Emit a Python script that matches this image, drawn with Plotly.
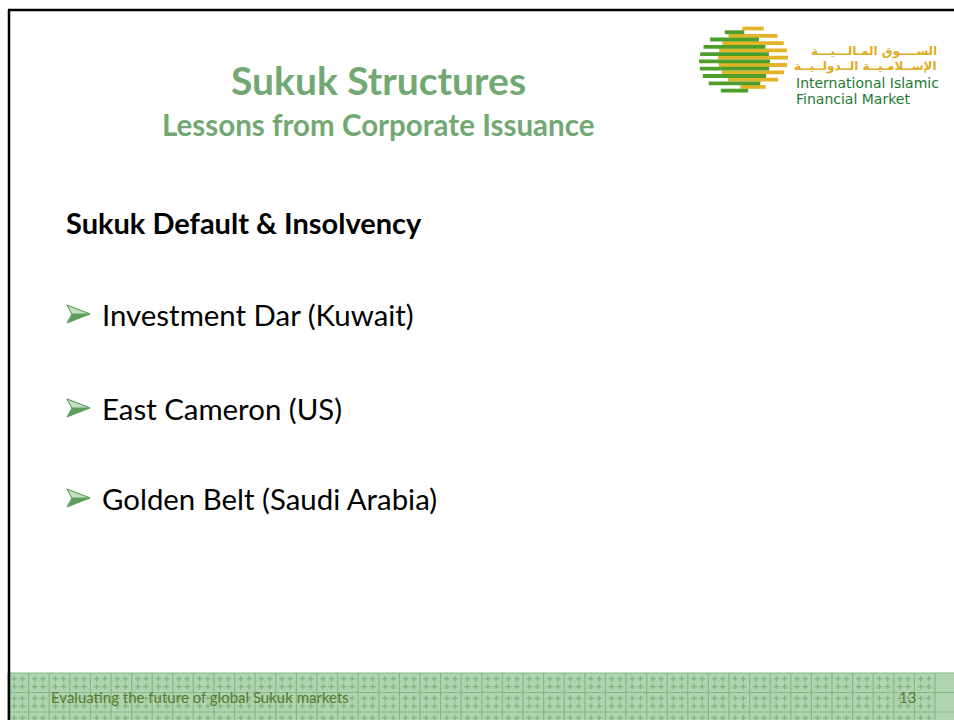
import numpy as np
import plotly.graph_objects as go

W, H = 954, 720

# ---- slide content ----
title = "Sukuk Structures"
subtitle = "Lessons from Corporate Issuance"
heading = "Sukuk Default & Insolvency"
bullets = ["Investment Dar (Kuwait)", "East Cameron (US)", "Golden Belt (Saudi Arabia)"]
bullet_y = [314, 408, 498]
footer_text = "Evaluating the future of global Sukuk markets"
page_no = "13"
logo_ar = ["الســــوق المـالـــيـــة", "الإســلامـيــة الــدولــيــة"]
logo_en = ["International Islamic", "Financial Market"]

GREEN_T = "#72a872"
OLIVE = "#5b7a2e"

fig = go.Figure()
shapes = []
ann = []

# footer band with tile pattern
shapes.append(dict(type="rect", x0=8, x1=W, y0=673, y1=H, fillcolor="#b0d3b0",
                   line=dict(width=0), layer="below"))
gx = np.arange(8, W + 1, 20.6)
gy = [673, 692.5, 712]
for x in gx:
    shapes.append(dict(type="line", x0=x, x1=x, y0=673, y1=H,
                       line=dict(color="#86b986", width=1.2), layer="below"))
for y in gy:
    shapes.append(dict(type="line", x0=8, x1=W, y0=y, y1=y,
                       line=dict(color="#86b986", width=1.2), layer="below"))
px, py = [], []
for x in gx[:-1]:
    for y0, y1 in zip([673, 692.5, 712], [692.5, 712, 731.5]):
        for fx in (0.3, 0.7):
            for fy in (0.3, 0.7):
                yy = y0 + (y1 - y0) * fy
                if yy < H:
                    px.append(x + 20.6 * fx)
                    py.append(yy)
fig.add_trace(go.Scatter(x=px, y=py, mode="markers", hoverinfo="skip",
                         marker=dict(symbol="cross-thin", size=4,
                                     line=dict(color="#80b580", width=1.2)),
                         showlegend=False))

# slide border
shapes.append(dict(type="line", x0=8, x1=W, y0=10, y1=10, line=dict(color="black", width=2.5)))
shapes.append(dict(type="line", x0=9, x1=9, y0=10, y1=H, line=dict(color="black", width=2.5)))

# logo stripes
def stripes(cx, cy, rx, ry, rows, color):
    for y in rows:
        t = (y - cy) / ry
        if abs(t) >= 1:
            continue
        hw = rx * np.sqrt(1 - t * t)
        shapes.append(dict(type="line", x0=cx - hw, x1=cx + hw, y0=y, y1=y,
                           line=dict(color=color, width=3.8)))

stripes(753, 58, 35, 31, np.arange(28.5, 90, 7.3), "#e2b428")
stripes(734.5, 62, 35.5, 31, np.arange(32.2, 94, 7.3), "#4e9e2a")

# titles
ann.append(dict(x=378, y=80, text=f"<b>{title}</b>",
                font=dict(family="Lato", size=39, color=GREEN_T)))
ann.append(dict(x=378, y=124, text=f"<b>{subtitle}</b>",
                font=dict(family="Lato", size=29.5, color=GREEN_T)))
ann.append(dict(x=65, y=222, text=f"<b>{heading}</b>", xanchor="left",
                font=dict(family="Lato", size=29, color="black")))
for txt, y in zip(bullets, bullet_y):
    x = 67
    shapes.append(dict(type="path",
                       path=f"M {x},{y-9} L {x+23},{y} L {x},{y+9} L {x+5},{y} Z",
                       fillcolor="#5f9e5f", line=dict(color="#5f9e5f", width=1)))
    shapes.append(dict(type="path",
                       path=f"M {x},{y-9} L {x+23},{y} L {x+5},{y} Z",
                       fillcolor="#c4e0c4", line=dict(color="#5f9e5f", width=1)))
    ann.append(dict(x=101, y=y, text=txt, xanchor="left",
                    font=dict(family="Lato", size=29.4, color="black")))

# logo text
for t, y in zip(logo_ar, [51.5, 66]):
    ann.append(dict(x=938, y=y, text=f"<b>{t}</b>", xanchor="right",
                    font=dict(family="DejaVu Sans", size=12, color="#e0ac20")))
for t, y in zip(logo_en, [82.6, 99.4]):
    ann.append(dict(x=795, y=y, text=t, xanchor="left",
                    font=dict(family="DejaVu Sans", size=14, color="#1e7a30")))

# footer text
ann.append(dict(x=50, y=697, text=footer_text, xanchor="left",
                font=dict(family="Lato", size=15, color=OLIVE)))
ann.append(dict(x=917, y=697, text=page_no, xanchor="right",
                font=dict(family="Lato", size=15, color=OLIVE)))

for a in ann:
    a.update(xref="x", yref="y", showarrow=False, yanchor="middle", borderpad=0)
    a.setdefault("xanchor", "center")

fig.update_layout(
    width=W, height=H, margin=dict(l=0, r=0, t=0, b=0),
    paper_bgcolor="white", plot_bgcolor="white",
    xaxis=dict(range=[0, W], visible=False, fixedrange=True),
    yaxis=dict(range=[H, 0], visible=False, fixedrange=True),
    shapes=shapes, annotations=ann, showlegend=False,
)
fig.write_html("out.html", config={"displayModeBar": False},
               post_script="document.body.style.margin='0px';document.body.style.overflow='hidden';")
